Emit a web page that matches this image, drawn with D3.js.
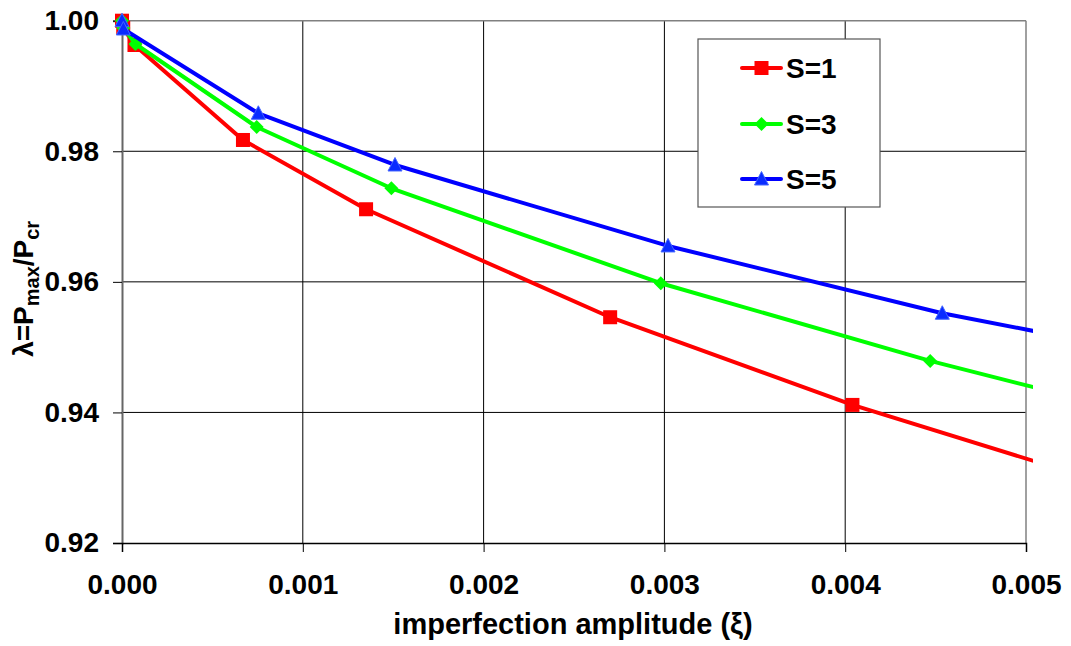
<!DOCTYPE html>
<html>
<head>
<meta charset="utf-8">
<script src="https://cdn.jsdelivr.net/npm/d3@7"></script>
<style>
  html, body { margin: 0; padding: 0; background: #fff; }
  svg { display: block; font-family: "Liberation Sans", Arial, sans-serif; font-weight: bold; }
</style>
</head>
<body>
<svg id="chart" width="1071" height="646"></svg>
<script>
// ---- data ----
const xiS1 = [0, 0.0000068, 0.000069, 0.000669, 0.00135, 0.0027, 0.00404, 0.0054];
const lamS1 = [1.0, 0.9989, 0.99628, 0.98173, 0.97112, 0.95458, 0.94115, 0.9295];
const xiS3 = [0, 0.0000075, 0.0000745, 0.000745, 0.00149, 0.00298, 0.00447, 0.00596];
const lamS3 = [1.0, 0.9989, 0.99643, 0.98372, 0.97433, 0.95979, 0.94789, 0.9374];
const xiS5 = [0, 0.0000076, 0.000754, 0.00151, 0.00302, 0.004537, 0.00604];
const lamS5 = [1.0, 0.99873, 0.98582, 0.9779, 0.9655, 0.95519, 0.9471];
const seriesNames = ["S=1", "S=3", "S=5"];
const xTicks = [0, 0.001, 0.002, 0.003, 0.004, 0.005];
const yTicks = [0.92, 0.94, 0.96, 0.98, 1.00];

// ---- layout ----
const svg = d3.select("#chart");
const L = 122, R = 1026, T = 20.7, B = 543;
const x = d3.scaleLinear().domain([0, 0.005]).range([L, R]);
const y = d3.scaleLinear().domain([0.92, 1.0]).range([B, T]);

const series = [
  { name: seriesNames[0], xs: xiS1, ys: lamS1, color: "#ff0000", marker: "square" },
  { name: seriesNames[1], xs: xiS3, ys: lamS3, color: "#00ff00", marker: "diamond" },
  { name: seriesNames[2], xs: xiS5, ys: lamS5, color: "#0000ff", marker: "triangle" }
];

// clip
svg.append("defs").append("clipPath").attr("id", "clip")
  .append("rect").attr("x", 100).attr("y", 0).attr("width", 1033 - 100).attr("height", 560);

// gridlines
const grid = svg.append("g");
grid.selectAll("line.h").data(yTicks.filter(d => d > 0.92 && d < 1.0)).join("line")
  .attr("x1", L).attr("x2", R).attr("y1", d => y(d)).attr("y2", d => y(d))
  .attr("stroke", "#000").attr("stroke-width", 1);
grid.selectAll("line.v").data(xTicks.filter(d => d > 0 && d < 0.005)).join("line")
  .attr("y1", T).attr("y2", B).attr("x1", d => x(d)).attr("x2", d => x(d))
  .attr("stroke", "#000").attr("stroke-width", 1);
// top/right border
svg.append("line").attr("x1", L).attr("x2", R).attr("y1", T).attr("y2", T).attr("stroke", "#808080").attr("stroke-width", 1.5);
svg.append("line").attr("x1", R).attr("x2", R).attr("y1", T).attr("y2", B).attr("stroke", "#808080").attr("stroke-width", 1.5);

// axes
const yAxis = d3.axisLeft(y).tickValues(yTicks).tickFormat(d3.format(".2f")).tickSize(9).tickPadding(14);
const gy = svg.append("g").attr("transform", `translate(${L},0)`).call(yAxis);
gy.select(".domain").attr("stroke", "#666").attr("stroke-width", 2);
gy.selectAll(".tick line").attr("stroke", "#000");
gy.selectAll("text").attr("font-size", 28).attr("font-weight", "bold").attr("fill", "#000")
  .attr("font-family", "Liberation Sans, Arial, sans-serif");

const xAxis = d3.axisBottom(x).tickValues(xTicks).tickFormat(d3.format(".3f")).tickSize(9).tickPadding(22);
const gx = svg.append("g").attr("transform", `translate(0,${B})`).call(xAxis);
gx.select(".domain").attr("stroke", "#000").attr("stroke-width", 1.5);
gx.selectAll(".tick line").attr("stroke", "#000");
gx.selectAll("text").attr("font-size", 28).attr("font-weight", "bold").attr("fill", "#000")
  .attr("font-family", "Liberation Sans, Arial, sans-serif");

// axis titles
svg.append("text").attr("x", 573).attr("y", 634).attr("text-anchor", "middle")
  .attr("font-size", 29).text("imperfection amplitude (ξ)");

const yt = svg.append("text").attr("transform", `translate(33,${(T + B) / 2 + 7}) rotate(-90)`)
  .attr("text-anchor", "middle").attr("font-size", 28);
yt.append("tspan").text("λ=P");
yt.append("tspan").attr("font-size", 20).attr("dy", 6).text("max");
yt.append("tspan").attr("dy", -6).text("/P");
yt.append("tspan").attr("font-size", 20).attr("dy", 6).text("cr");

// markers
function drawMarker(g, type, cx, cy, color) {
  if (type === "square") {
    g.append("rect").attr("x", cx - 7).attr("y", cy - 7).attr("width", 14).attr("height", 14).attr("fill", color);
  } else if (type === "diamond") {
    const s = 7;
    g.append("path").attr("d", `M${cx},${cy - s}L${cx + s},${cy}L${cx},${cy + s}L${cx - s},${cy}Z`).attr("fill", color);
  } else {
    const s = 7;
    g.append("path").attr("d", `M${cx},${cy - 7.5}L${cx + s},${cy + 6}L${cx - s},${cy + 6}Z`)
      .attr("fill", "#0a2cff").attr("stroke", "#4466ff").attr("stroke-width", 1);
  }
}

const plot = svg.append("g").attr("clip-path", "url(#clip)");
const line = d3.line().x(d => x(d[0])).y(d => y(d[1]));
series.forEach(s => {
  const pts = s.xs.map((v, i) => [v, s.ys[i]]);
  plot.append("path").datum(pts).attr("d", line).attr("fill", "none")
    .attr("stroke", s.color).attr("stroke-width", 4).attr("stroke-linejoin", "round");
  const mg = plot.append("g");
  pts.forEach(p => drawMarker(mg, s.marker, x(p[0]), y(p[1]), s.color));
});

// legend
const lg = svg.append("g");
lg.append("rect").attr("x", 698).attr("y", 39).attr("width", 182).attr("height", 168)
  .attr("fill", "#fff").attr("stroke", "#555").attr("stroke-width", 1.2);
const legY = [68, 124, 179];
series.forEach((s, i) => {
  const yy = legY[i];
  lg.append("line").attr("x1", 742).attr("x2", 781).attr("y1", yy).attr("y2", yy)
    .attr("stroke", s.color).attr("stroke-width", 4).attr("stroke-linecap", "round");
  drawMarker(lg, s.marker, 761.5, yy, s.color);
  lg.append("text").attr("x", 786).attr("y", yy + 10).attr("font-size", 28).text(s.name);
});
</script>
</body>
</html>
